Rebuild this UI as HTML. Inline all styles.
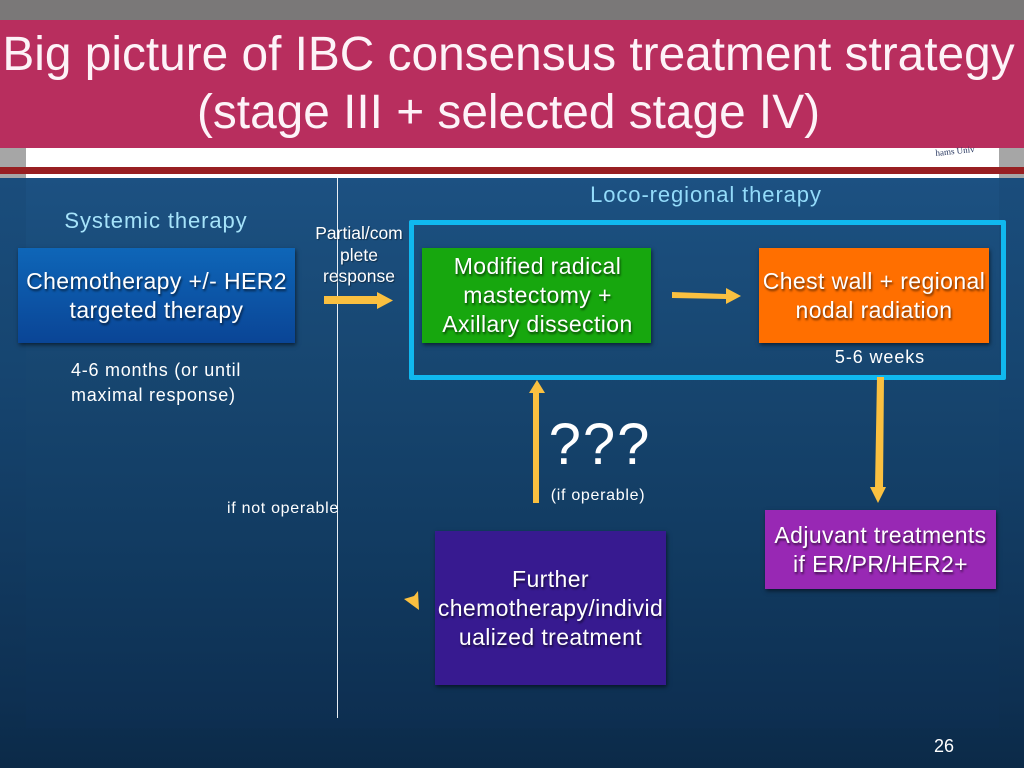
<!DOCTYPE html>
<html>
<head>
<meta charset="utf-8">
<style>
html,body{margin:0;padding:0;width:1024px;height:768px;overflow:hidden;background:#0c2b4b}
body{position:relative;font-family:"Liberation Sans",sans-serif;color:#fff}
.a{position:absolute}
.t{position:absolute;text-align:center;white-space:nowrap}
.box{position:absolute;box-shadow:1px 2px 4px rgba(0,0,0,.55);text-align:center;color:#fff;font-size:23px;line-height:29px;letter-spacing:.4px;white-space:nowrap;text-shadow:1px 2px 2px rgba(0,0,0,.6);display:flex;align-items:center;justify-content:center}
</style>
</head>
<body>
<div class="a" style="left:0;top:178px;width:1024px;height:590px;background:linear-gradient(#1a4d7c,#164570 33%,#0e3052 88%,#0b2a48)"></div>
<div class="a" style="left:26px;top:178px;width:973px;height:550px;background:linear-gradient(#1c5182,#174670 35%,#113a60 70%,#0d2e50)"></div>
<div class="a" style="left:0;top:0;width:1024px;height:20px;background:#7a7878"></div>
<div class="a" style="left:0;top:148px;width:1024px;height:30px;background:#a6a6a6"></div>
<div class="a" style="left:26px;top:148px;width:973px;height:30px;background:#fff"></div>
<div class="a" style="left:0;top:167px;width:1024px;height:7px;background:#981f22"></div>
<div class="a" style="left:0;top:20px;width:1024px;height:128px;background:#b82e5e"></div>
<div class="t" style="left:0;top:26px;width:1017px;font-size:47.8px;line-height:58px;color:#fdf3f8">Big picture of IBC consensus treatment strategy<br>(stage III + selected stage IV)</div>
<div class="t" style="left:930px;top:146px;width:50px;font-size:9px;line-height:10px;color:#27365f;font-family:'Liberation Serif',serif;transform:rotate(-6deg)">hams Univ</div>

<div class="a" style="left:337px;top:178px;width:1px;height:540px;background:#e8eef4"></div>

<div class="t" style="left:26px;top:208px;width:260px;font-size:22px;line-height:26px;letter-spacing:.9px;color:#a6e3fa">Systemic therapy</div>
<div class="t" style="left:560px;top:182px;width:292px;font-size:22px;line-height:26px;letter-spacing:.9px;color:#93dbfa">Loco-regional therapy</div>

<div class="box" style="left:18px;top:248px;width:277px;height:95px;background:linear-gradient(#0e66b8,#0a4596)">Chemotherapy +/- HER2<br>targeted therapy</div>
<div class="box" style="left:422px;top:248px;width:229px;height:95px;background:#17a70e;padding-left:2px;box-sizing:border-box">Modified radical<br>mastectomy +<br>Axillary dissection</div>
<div class="box" style="left:759px;top:248px;width:230px;height:95px;background:#ff6f00">Chest wall + regional<br>nodal radiation</div>
<div class="box" style="left:435px;top:531px;width:231px;height:154px;background:#371a90">Further<br>chemotherapy/individ<br>ualized treatment</div>
<div class="box" style="left:765px;top:510px;width:231px;height:79px;background:#9828b4">Adjuvant treatments<br>if ER/PR/HER2+</div>

<div class="a" style="left:409px;top:220px;width:587px;height:150px;border:5px solid #10b8ef;border-radius:2px"></div>

<div class="t" style="left:299px;top:223px;width:120px;font-size:17.5px;line-height:21.5px;text-shadow:1px 1px 1px rgba(0,0,0,.4)">Partial/com<br>plete<br>response</div>
<div class="t" style="left:800px;top:345px;width:160px;font-size:18px;line-height:24px;letter-spacing:.9px">5-6 weeks</div>
<div class="t" style="left:71px;top:358px;width:200px;font-size:18px;line-height:25px;letter-spacing:.75px;text-align:left">4-6 months (or until<br>maximal response)</div>
<div class="t" style="left:540px;top:412px;width:120px;font-size:58px;line-height:66px;letter-spacing:2px">???</div>
<div class="t" style="left:528px;top:485px;width:140px;font-size:16px;line-height:21px;letter-spacing:.7px">(if operable)</div>
<div class="t" style="left:213px;top:498px;width:140px;font-size:16px;line-height:21px;letter-spacing:.7px">if not operable</div>
<div class="t" style="left:914px;top:735px;width:60px;font-size:18px;line-height:22px">26</div>

<svg class="a" style="left:0;top:0" width="1024" height="768" viewBox="0 0 1024 768">
<g fill="#fac040">
<polygon points="324,296 377,296 377,292 393,300.500 377,309 377,304 324,304"/>
<polygon points="672,292 726,294 726,288 741,296 726,304 726,299 672,298"/>
<polygon points="533,503 533,393 529,393 537,380 545,393 539,393 539,503"/>
<polygon points="877,377 884,377 883,487 886,487 878,503 870,487 875,487"/>
<polygon points="404,599 414,596 418,591 419,610"/>
</g>
</svg>
</body>
</html>
